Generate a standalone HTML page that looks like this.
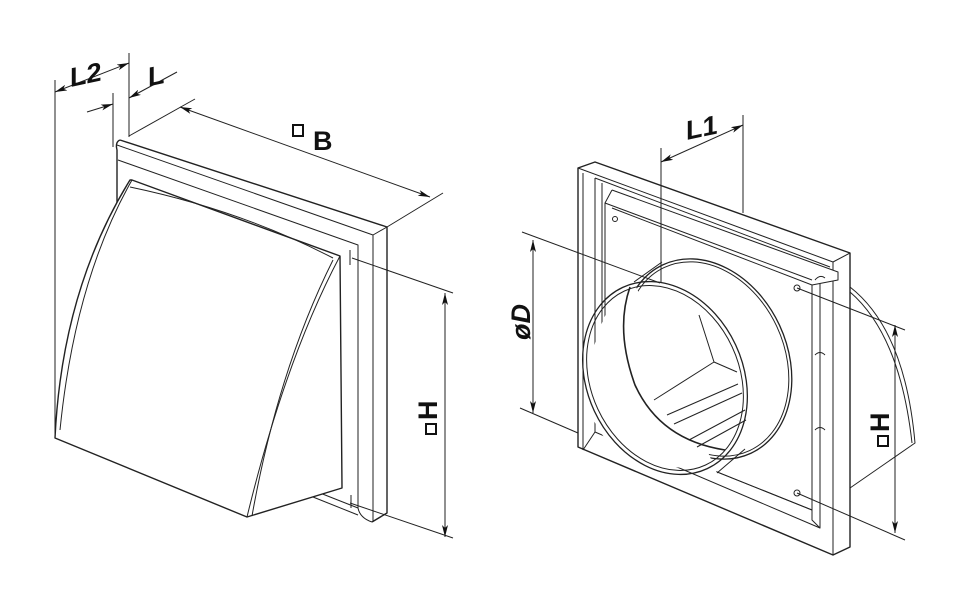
<!DOCTYPE html>
<html><head><meta charset="utf-8"><style>
html,body{margin:0;padding:0;background:#fff;}
svg{display:block;}
text{font-family:"Liberation Sans",sans-serif;font-weight:bold;fill:#111;}
</style></head><body>
<svg width="962" height="611" viewBox="0 0 962 611" xmlns="http://www.w3.org/2000/svg">
<defs>
<marker id="a" viewBox="0 0 12 6" refX="12" refY="3" markerWidth="12" markerHeight="6" orient="auto" markerUnits="userSpaceOnUse"><path d="M0,0 L12,3 L0,6 L3,3z" fill="#111"/></marker>
<marker id="b" viewBox="0 0 12 6" refX="0" refY="3" markerWidth="12" markerHeight="6" orient="auto" markerUnits="userSpaceOnUse"><path d="M12,0 L0,3 L12,6 L9,3z" fill="#111"/></marker>
</defs>
<g fill="none" stroke="#222" stroke-width="1" stroke-linejoin="round">
<line x1="55" y1="80" x2="55" y2="437"/>
<line x1="113" y1="93" x2="113" y2="147"/>
<line x1="129" y1="53" x2="129" y2="137"/>
<line x1="55" y1="92" x2="129" y2="63" marker-start="url(#b)" marker-end="url(#a)"/>
<line x1="87" y1="112" x2="113" y2="104" marker-end="url(#a)"/>
<line x1="129" y1="98" x2="177" y2="72" marker-start="url(#b)"/>
<line x1="129" y1="136" x2="195" y2="99"/>
<line x1="387" y1="227" x2="443" y2="193"/>
<line x1="180" y1="107" x2="430" y2="197" marker-start="url(#b)" marker-end="url(#a)"/>
<line x1="352" y1="258" x2="453" y2="293"/>
<line x1="350" y1="503" x2="453" y2="538"/>
<line x1="445" y1="293" x2="445" y2="537" marker-start="url(#b)" marker-end="url(#a)"/>
<line x1="350" y1="250" x2="350" y2="265"/><line x1="351" y1="495" x2="351" y2="508"/>
<path d="M120,140 Q115,142 117,150 L117,215" stroke-width="1.4"/>
<path d="M120,140 L387,227 L387,513 L372,522" stroke-width="1.4"/>
<path d="M117,145 L373,235 L373,522"/>
<path d="M118,160 L358,245 L358,508 Q360,518 372,522"/>
<path d="M313,497 L358,515"/>
<path d="M320,493 L358,508"/>
<line x1="373" y1="235" x2="387" y2="227"/>
<path d="M132,180 L340,256 L342,488 L247,517 L55,438 Q62,290 130,180 Z" fill="#fff" stroke-width="1.4"/>
<path d="M132,180 Q75,280 60,430" />
<path d="M130,187 Q240,210 333,258"/>
<path d="M340,256 Q285,360 247,517"/>
<path d="M333,260 Q278,370 252,516"/>
<path d="M578,168 L595,162 L850,253 L850,547 L833,555 L578,447 Z" fill="#fff" stroke-width="1.4"/>
<path d="M578,168 L833,262 L833,555"/>
<line x1="833" y1="262" x2="850" y2="253"/>
<path d="M583,173 L583,450"/>
<path d="M595,178 L830,267"/>
<path d="M595,178 L595,432 L820,528 L820,270"/>
<path d="M602,183 L602,428"/>
<path d="M583,450 L595,432"/>
<path d="M612,190 L838,272 L838,280 L812,285 L812,510 L605,427 L605,203 L612,190" fill="#fff"/>
<path d="M605,203 L812,280"/>
<path d="M612,208 L812,285"/>
<path d="M812,285 L812,520 L820,528"/>
<path d="M812,510 L605,427"/>
<circle cx="615" cy="219" r="2.5"/>
<circle cx="797" cy="288" r="3"/><circle cx="797" cy="493" r="3"/>
<path d="M815,280 q5,-6 10,-2 M815,355 q5,-5 10,0 M815,430 q5,-5 10,0"/>
<path d="M850,287 Q905,330 915,443 L850,488"/>
<path d="M850,292 Q900,335 912,443"/>
<ellipse cx="707" cy="359" rx="80" ry="104" transform="rotate(-25 707 359)" fill="#fff" stroke-width="1.3"/>
<ellipse cx="707" cy="359" rx="77" ry="101" transform="rotate(-25 707 359)"/>
<path d="M634,282 L662,262 M717,473 L745,449"/>
<path d="M634,282 Q600,300 587,380 Q585,440 640,462 L717,473 Z" fill="#fff" stroke="none"/>
<ellipse cx="665" cy="378" rx="78" ry="100" transform="rotate(-25 665 378)" stroke-width="1.3"/>
<ellipse cx="665" cy="378" rx="74" ry="96" transform="rotate(-25 665 378)"/>
<path d="M630,287 Q615,330 635,385 Q660,440 725,450" stroke-width="1.6"/>
<path d="M699,315 L714,362 L654,400 M714,362 L737,372 M667,415 L738,384 M674,424 L742,393 M689,440 L745,410 M697,447 L746,420" />
<line x1="661" y1="148" x2="661" y2="282"/>
<line x1="743" y1="115" x2="743" y2="213"/>
<line x1="661" y1="162" x2="743" y2="125" marker-start="url(#b)" marker-end="url(#a)"/>
<line x1="522" y1="232" x2="660" y2="283"/>
<line x1="520" y1="408" x2="578" y2="433"/>
<line x1="533" y1="240" x2="533" y2="413" marker-start="url(#b)" marker-end="url(#a)"/>
<line x1="797" y1="288" x2="905" y2="330"/>
<line x1="797" y1="493" x2="905" y2="540"/>
<line x1="895" y1="325" x2="895" y2="533" marker-start="url(#b)" marker-end="url(#a)"/>
</g>
<g font-size="27">
<text x="70" y="86" transform="skewY(-12) translate(0,16)">L2</text>
<text x="148" y="88" transform="skewY(-12) translate(0,30)">L</text>
<rect x="293" y="125" width="10" height="11" fill="none" stroke="#111" stroke-width="2"/>
<text x="313" y="150">B</text>
<text x="686" y="140" transform="skewY(-12) translate(0,146)">L1</text>
<rect x="426" y="424" width="10" height="10" fill="none" stroke="#111" stroke-width="2"/>
<text transform="translate(437,420) rotate(-90)">H</text>
<rect x="878" y="436" width="10" height="10" fill="none" stroke="#111" stroke-width="2"/>
<text transform="translate(889,432) rotate(-90)">H</text>
<text transform="translate(530,340) rotate(-90)" font-style="italic">øD</text>
</g>
</svg>
</body></html>
